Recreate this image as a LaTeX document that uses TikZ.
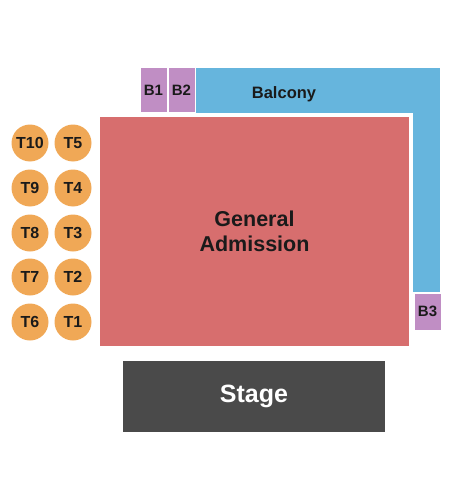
\documentclass[tikz,border=0pt]{standalone}
\usepackage{fontspec}
\setmainfont{Liberation Sans}
\usepackage{tikz}
\usepackage{xcolor}
\usetikzlibrary{positioning}
\definecolor{gacol}{RGB}{215, 110, 110}
\definecolor{balcol}{RGB}{102, 181, 221}
\definecolor{boxcol}{RGB}{192, 142, 196}
\definecolor{tabcol}{RGB}{240, 168, 86}
\definecolor{stagecol}{RGB}{74, 74, 74}
\definecolor{txtcol}{RGB}{26, 26, 26}

\begin{document}
\begin{tikzpicture}[
    x=1pt, y=-1pt,
    area/.style={rectangle, inner sep=0pt, align=center, text=txtcol, font=\bfseries},
    bbox/.style={area, fill=boxcol, draw=white, line width=1pt,
                 minimum width=27pt, minimum height=45pt, font=\bfseries\fontsize{15}{15}\selectfont},
    tbl/.style={circle, fill=tabcol, inner sep=0pt, minimum size=37pt, text=txtcol,
                font=\bfseries\fontsize{16}{16}\selectfont}
  ]
  \useasboundingbox (0,0) rectangle (450,500);

  % Balcony (the GA block covers its lower left part)
  \node[area, fill=balcol, minimum width=244pt, minimum height=224pt] (balcony) at (318,180) {};
  \node[text=txtcol, font=\bfseries\fontsize{16.5}{16.5}\selectfont] (balname) at (284,94.5) {Balcony};

  % Boxes
  \node[bbox] (b1) at (153.5,90.5) {B1};
  \node[bbox] (b2) at (181.5,90.5) {B2};
  \node[bbox, minimum height=37pt] (b3) at (427.5,311.5) {B3};

  % General Admission
  \node[area, fill=gacol, draw=white, line width=4pt, minimum width=313pt,
        minimum height=233pt, font=\bfseries\fontsize{21.5}{25}\selectfont] (ga) at (254.5,231.5)
        {General\\Admission};

  % Stage
  \node[area, fill=stagecol, text=white, minimum width=262pt, minimum height=71pt,
        font=\bfseries\fontsize{25}{25}\selectfont] (stage) at (254,396.5) {\raisebox{-2pt}{Stage}};

  % Tables
  \foreach \i/\y in {1/322,2/277,3/233,4/188,5/143} {
    \node[tbl] (t\i) at (73,\y) {T\i};
  }
  \foreach \i/\y in {6/322,7/277,8/233,9/188,10/143} {
    \node[tbl] (t\i) at (30,\y) {T\i};
  }
\end{tikzpicture}
\end{document}
